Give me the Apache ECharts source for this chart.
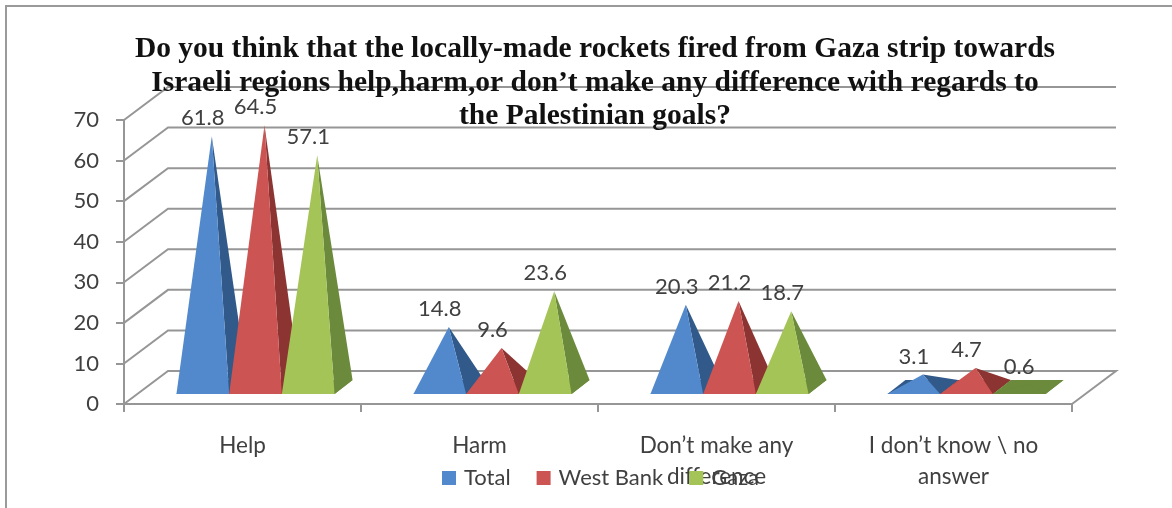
<!DOCTYPE html>
<html>
<head>
<meta charset="utf-8">
<style>
html,body{margin:0;padding:0;background:#fff}
#mychart{width:1172px;height:508px}
</style>
<script src="https://cdn.jsdelivr.net/npm/echarts@6/dist/echarts.min.js"></script>
</head>
<body>
<div id="mychart"></div>
<script>
var categories = ['Help', 'Harm', 'Don\u2019t make any\ndifference', 'I don\u2019t know \\ no\nanswer'];
var total = [61.8, 14.8, 20.3, 3.1];
var westBank = [64.5, 9.6, 21.2, 4.7];
var gaza = [57.1, 23.6, 18.7, 0.6];
var valueTicks = [0, 10, 20, 30, 40, 50, 60, 70];
var titleText = 'Do you think that the locally-made rockets fired from Gaza strip towards\nIsraeli regions help,harm,or don\u2019t make any difference with regards to\nthe Palestinian goals?';

var myChart = echarts.init(document.getElementById('mychart'));

var fontName = 'Lato';
var textColor = '#404040';
var lineColor = '#969696';
// depth of the walls and of the pyramid bases, in px
var wallDx = 44, wallDy = -33;
var baseDx = 18, baseDy = -14;
var floorLift = -10;

function toSeriesData(values) {
    return values.map(function (v, i) { return [i, v]; });
}

function pyramidSeries(name, values, slot, front, side) {
    return {
        name: name,
        type: 'custom',
        itemStyle: { color: front },
        clip: false,
        z: 3,
        data: toSeriesData(values),
        encode: { x: 0, y: 1 },
        renderItem: function (params, api) {
            var cat = api.value(0);
            var val = api.value(1);
            var zero = api.coord([cat, 0]);
            var top = api.coord([cat, val]);
            var w = api.size([1, 0])[0] * 0.2224;
            var cx = zero[0] + 13 + slot * w;
            var by = zero[1] + floorLift;
            var fl = [cx - w / 2, by];
            var fr = [cx + w / 2, by];
            var br = [cx + w / 2 + baseDx, by + baseDy];
            var bl = [cx - w / 2 + baseDx, by + baseDy];
            var apex = [cx + baseDx / 2, top[1] + floorLift + baseDy / 2];
            // an almost flat pyramid only shows its dark shade in the picture
            var frontFill = val < 1 ? side : front;
            return {
                type: 'group',
                children: [
                    { type: 'polygon', shape: { points: [fl, fr, br, bl] }, style: { fill: side } },
                    { type: 'polygon', shape: { points: [fr, br, apex] }, style: { fill: side } },
                    { type: 'polygon', shape: { points: [fl, fr, apex] }, style: { fill: frontFill } },
                    {
                        type: 'text',
                        z2: 20,
                        style: {
                            text: String(val),
                            x: cx,
                            y: apex[1] - 18,
                            textAlign: 'center',
                            textVerticalAlign: 'middle',
                            fontFamily: fontName,
                            fontSize: 22,
                            fill: textColor
                        }
                    }
                ]
            };
        }
    };
}

var wallSeries = {
    type: 'custom',
    silent: true,
    clip: false,
    z: 1,
    data: valueTicks.map(function (v) { return [0, v]; }),
    encode: { x: 0, y: 1 },
    renderItem: function (params, api) {
        var rect = params.coordSys;
        var y = api.coord([0, api.value(1)])[1];
        var x0 = rect.x;
        var x1 = rect.x + rect.width;
        var pts = [[x0, y], [x0 + wallDx, y + wallDy], [x1 + wallDx, y + wallDy]];
        if (api.value(1) === 0) {
            pts.push([x1, y]);
        }
        return {
            type: 'polyline',
            shape: { points: pts },
            style: { stroke: lineColor, lineWidth: 2, fill: null }
        };
    }
};

var option = {
    backgroundColor: '#fff',
    animation: false,
    title: {
        text: titleText,
        left: 590,
        top: 28,
        textAlign: 'center',
        textStyle: {
            fontFamily: 'Liberation Serif',
            fontWeight: 'bold',
            fontSize: 29.5,
            lineHeight: 33.5,
            color: '#111'
        }
    },
    legend: {
        data: ['Total', 'West Bank', 'Gaza'],
        left: 437,
        top: 462,
        icon: 'rect',
        itemWidth: 14,
        itemHeight: 14,
        itemGap: 26,
        textStyle: { fontFamily: fontName, fontSize: 22, color: textColor, padding: [0, 0, 0, 3] }
    },
    grid: { left: 124, top: 120, width: 948, height: 284 },
    xAxis: {
        type: 'category',
        data: categories,
        axisLine: { lineStyle: { color: lineColor, width: 2 } },
        axisTick: { show: true, length: 8, alignWithLabel: false, lineStyle: { color: lineColor, width: 2 } },
        axisLabel: {
            interval: 0,
            margin: 26,
            fontFamily: fontName,
            fontSize: 22.5,
            lineHeight: 31,
            color: textColor
        }
    },
    yAxis: {
        type: 'value',
        min: 0,
        max: 70,
        interval: 10,
        splitLine: { show: false },
        axisLine: { show: true, lineStyle: { color: lineColor, width: 2 } },
        axisTick: { show: true, length: 8, lineStyle: { color: lineColor, width: 2 } },
        axisLabel: { margin: 25, fontFamily: fontName, fontSize: 22, color: textColor, padding: [4, 0, 0, 0] }
    },
    graphic: [
        { type: 'polyline', silent: true, shape: { points: [[6, 508], [6, 6], [1172, 6]] }, style: { stroke: '#9a9a9a', lineWidth: 2, fill: null } }
    ],
    series: [
        wallSeries,
        pyramidSeries('Total', total, -1, '#5289cc', '#31598a'),
        pyramidSeries('West Bank', westBank, 0, '#cc5452', '#8c3432'),
        pyramidSeries('Gaza', gaza, 1, '#a4c458', '#6b8a3b')
    ]
};

myChart.setOption(option);
</script>
</body>
</html>
